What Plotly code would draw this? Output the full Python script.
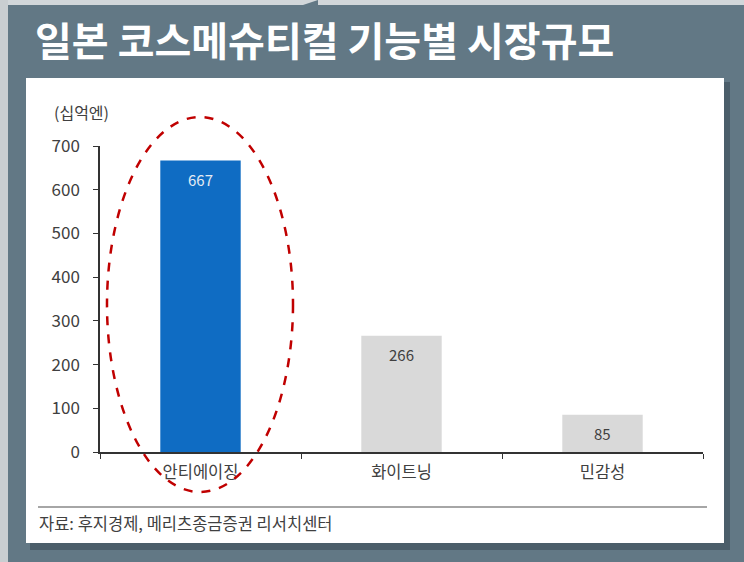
import plotly.graph_objects as go

# ---- data ----
categories = ["안티에이징", "화이트닝", "민감성"]
values = [667, 266, 85]
bar_colors = ["#0f6cc3", "#d9d9d9", "#d9d9d9"]
label_colors = ["#e4ebf3", "#404040", "#404040"]
y_ticks = [0, 100, 200, 300, 400, 500, 600, 700]
title_text = "일본 코스메슈티컬 기능별 시장규모"
unit_text = "(십억엔)"
source_text = "자료: 후지경제, 메리츠종금증권 리서치센터"

W, H = 744, 562
L, R, T, B = 100, 41, 146, 110
PW, PH = W - L - R, H - T - B
FONT = "Noto Sans CJK KR"
TXT = "#404040"


def fx(p):
    return (p - L) / PW


def fy(p):
    return (H - B - p) / PH


fig = go.Figure(
    go.Bar(
        x=categories,
        y=values,
        width=0.4,
        marker=dict(color=bar_colors, line=dict(width=0)),
        hoverinfo="skip",
    )
)

shapes = []
# page background pieces
shapes.append(dict(type="rect", xref="paper", yref="paper", x0=fx(0), x1=fx(W), y0=fy(0), y1=fy(5),
                   fillcolor="#d2d7da", line=dict(width=0), layer="below"))
shapes.append(dict(type="rect", xref="paper", yref="paper", x0=fx(0), x1=fx(8), y0=fy(0), y1=fy(H),
                   fillcolor="#c9ced1", line=dict(width=0), layer="below"))
shapes.append(dict(type="path", xref="paper", yref="paper",
                   path=f"M {fx(303)},{fy(5)} L {fx(318)},{fy(0)} L {fx(318)},{fy(5)} Z",
                   fillcolor="#627885", line=dict(width=0), layer="below"))
# panel shadow
shapes.append(dict(type="rect", xref="paper", yref="paper", x0=fx(30), x1=fx(730), y0=fy(82), y1=fy(550),
                   fillcolor="#4b5e6a", line=dict(width=0), layer="below"))
# white panel
shapes.append(dict(type="rect", xref="paper", yref="paper", x0=fx(26), x1=fx(724), y0=fy(78), y1=fy(543),
                   fillcolor="#ffffff", line=dict(width=0), layer="below"))
# source separator line
shapes.append(dict(type="line", xref="paper", yref="paper", x0=fx(38), x1=fx(707), y0=fy(507), y1=fy(507),
                   line=dict(color="#a6a6a6", width=2)))
# red dashed ellipse highlight
shapes.append(dict(type="circle", xref="x domain", yref="y domain",
                   x0=fx(107), x1=fx(293), y0=fy(492), y1=fy(117),
                   line=dict(color="#c00000", width=2.5, dash="dash")))

annotations = []
annotations.append(dict(text=title_text, xref="paper", yref="paper", x=fx(33), y=fy(39),
                        xanchor="left", yanchor="middle", showarrow=False,
                        font=dict(family=FONT, size=40, color="#ffffff", weight=700)))
annotations.append(dict(text=unit_text, xref="paper", yref="paper", x=fx(52), y=fy(112),
                        xanchor="left", yanchor="middle", showarrow=False,
                        font=dict(family=FONT, size=16, color=TXT)))
annotations.append(dict(text=source_text, xref="paper", yref="paper", x=fx(37), y=fy(523),
                        xanchor="left", yanchor="middle", showarrow=False,
                        font=dict(family=FONT, size=16.5, color=TXT)))
for c, v, col in zip(categories, values, label_colors):
    annotations.append(dict(text=str(v), x=c, y=v, xref="x", yref="y", yanchor="middle",
                            yshift=-19, showarrow=False,
                            font=dict(family=FONT, size=15, color=col)))

fig.update_layout(
    width=W, height=H,
    margin=dict(l=L, r=R, t=T, b=B, pad=0),
    paper_bgcolor="#627885",
    plot_bgcolor="rgba(0,0,0,0)",
    showlegend=False,
    shapes=shapes,
    annotations=annotations,
    font=dict(family=FONT, color=TXT),
    bargap=0.6,
)
fig.update_xaxes(
    type="category", range=[-0.5, 2.5], tickson="boundaries", ticks="outside", ticklen=5,
    tickcolor="#333333", showline=True, linecolor="#333333", linewidth=1.5, showgrid=False,
    tickfont=dict(family=FONT, size=16.5, color=TXT), ticklabelstandoff=4, fixedrange=True,
)
fig.update_yaxes(
    range=[0, 700], tickvals=y_ticks, ticks="outside", ticklen=5, tickcolor="#333333",
    showline=True, linecolor="#333333", linewidth=1.5, showgrid=False, zeroline=False,
    tickfont=dict(family=FONT, size=17, color=TXT), ticklabelstandoff=10, fixedrange=True,
)

fig.write_html("out.html", config={"displayModeBar": False},
               post_script="document.body.style.margin='0';document.body.style.overflow='hidden';")
